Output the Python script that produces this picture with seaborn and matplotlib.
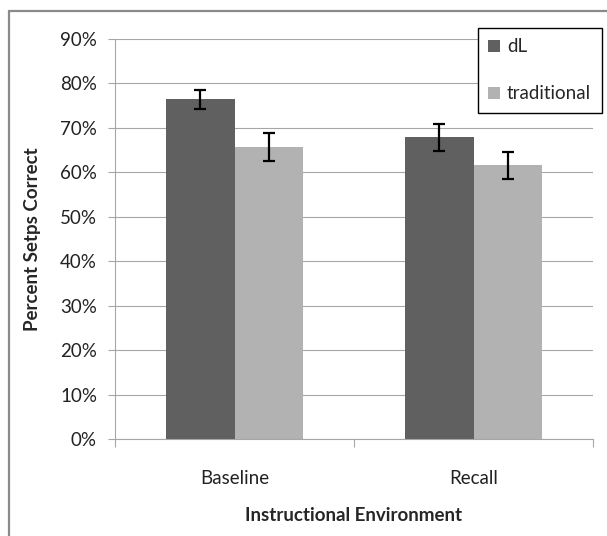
import numpy as np
import pandas as pd
import matplotlib
matplotlib.use("Agg")
import matplotlib.pyplot as plt
from matplotlib.patches import Rectangle
from matplotlib.ticker import FuncFormatter, FixedLocator
import seaborn as sns

# data
environments = ["Baseline", "Recall"]
groups = ["dL", "traditional"]
dl_means = [76.4, 67.8]
trad_means = [65.6, 61.5]
dl_err = [2.15, 3.05]
trad_err = [3.15, 3.1]
y_ticks = [0, 10, 20, 30, 40, 50, 60, 70, 80, 90]

df = pd.DataFrame({
    "Instructional Environment": environments * 2,
    "group": [groups[0]] * 2 + [groups[1]] * 2,
    "value": dl_means + trad_means,
    "err": dl_err + trad_err,
})

sns.set_style("white")
plt.rcParams["font.family"] = ["Lato", "DejaVu Sans"]
FS = 13.5

W, H = 607, 536
fig = plt.figure(figsize=(W / 100, H / 100), dpi=100)
ax = fig.add_axes([115 / W, 97 / H, 478 / W, 400.3 / H])

palette = {"dL": "#606060", "traditional": "#b2b2b2"}
sns.barplot(data=df, x="Instructional Environment", y="value", hue="group",
            hue_order=groups, order=environments, palette=palette,
            width=0.57, errorbar=None, saturation=1, linewidth=0,
            ax=ax, zorder=2)

# error bars on bar centres taken from the drawn patches
bars = [p for p in ax.patches if p.get_height() > 0]
for p, (_, row) in zip(bars, df.iterrows()):
    xc = p.get_x() + p.get_width() / 2
    ax.errorbar(xc, row["value"], yerr=row["err"], fmt="none", ecolor="black",
                elinewidth=1.6, capsize=4, capthick=1.6, zorder=3)

ax.set_ylim(0, 90)
ax.set_xlim(-0.5, 1.5)
ax.yaxis.set_major_locator(FixedLocator(y_ticks))
ax.yaxis.set_major_formatter(FuncFormatter(lambda v, _: f"{int(v)}%"))
ax.yaxis.grid(True, color="#a6a6a6", lw=0.8, zorder=0)
ax.set_axisbelow(True)

for s in ["top", "right"]:
    ax.spines[s].set_visible(False)
for s in ["left", "bottom"]:
    ax.spines[s].set_color("#a6a6a6")
    ax.spines[s].set_linewidth(0.8)

ax.tick_params(axis="y", which="major", left=True, length=5, width=0.8,
               color="#a6a6a6", pad=8, labelsize=FS, labelcolor="#222222")
ax.tick_params(axis="x", which="major", length=0, pad=22, labelsize=FS,
               labelcolor="#222222")
ax.set_xticks([-0.5, 0.5, 1.5], minor=True)
ax.tick_params(axis="x", which="minor", bottom=True, length=6, width=0.8,
               color="#a6a6a6")

ax.set_xlabel("Instructional Environment", fontsize=FS, fontweight="bold")
ax.set_ylabel("Percent Setps Correct", fontsize=FS, fontweight="bold")
ax.xaxis.set_label_coords(0.5, -0.17)
ax.yaxis.set_label_coords(-0.155, 0.5)

handles, labels = ax.get_legend_handles_labels()
leg = ax.legend(handles, labels, loc="upper left",
                bbox_to_anchor=(478 / W, 1 - 28 / H), bbox_transform=fig.transFigure,
                borderaxespad=0, frameon=True, fancybox=False, framealpha=1,
                edgecolor="black", fontsize=FS, handlelength=0.6,
                handleheight=0.6, handletextpad=0.4, labelspacing=1.6,
                borderpad=0.55)
leg.get_frame().set_linewidth(1.0)

# outer chart-area border (only top and left visible in the crop)
fig.add_artist(Rectangle((9 / W, -0.2), 1.2, (H - 11) / H + 0.2,
                         transform=fig.transFigure, fill=False,
                         edgecolor="#8a8a8a", lw=1.6, clip_on=False))

fig.savefig("out.png", dpi=100)
